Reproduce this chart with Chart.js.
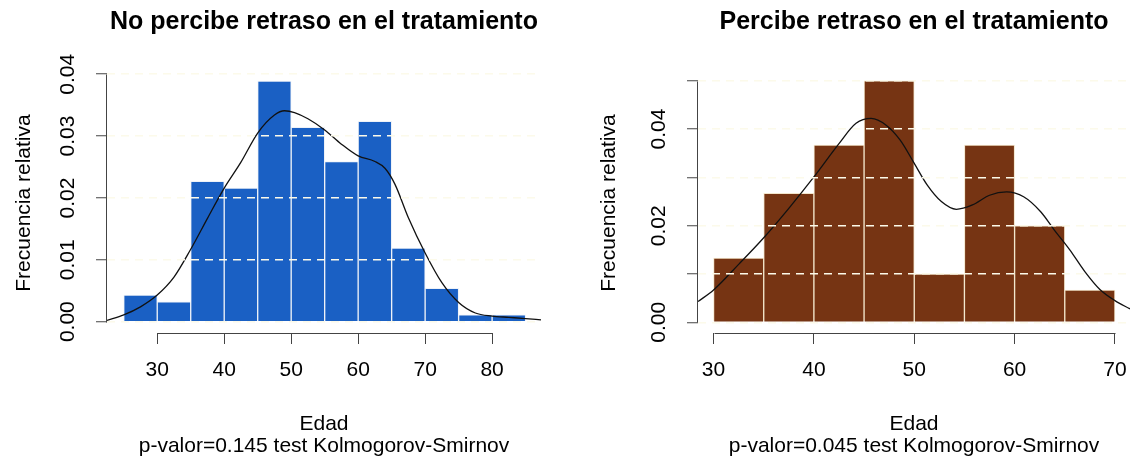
<!DOCTYPE html>
<html>
<head>
<meta charset="utf-8">
<script src="https://cdn.jsdelivr.net/npm/chart.js@4/dist/chart.umd.min.js"></script>
<style>
    body { margin: 0; background: #fff; }
    .panel { position: absolute; top: 0; width: 565px; height: 459px; }
</style>
</head>
<body>
<div class="panel" style="left:0"><canvas id="chartNo" width="565" height="459"></canvas></div>
<div class="panel" style="left:565px"><canvas id="chartSi" width="565" height="459"></canvas></div>
<script>
// bin width for both histograms (years)
const BIN_W = 5;

// left: "No percibe retraso"
const binStartsNo = [25, 30, 35, 40, 45, 50, 55, 60, 65, 70, 75, 80];
const freqNo = [0.0043, 0.0032, 0.0227, 0.0216, 0.0389, 0.0314, 0.0259, 0.0324, 0.0119, 0.0054, 0.0011, 0.0011];
const densXNo = [22.5, 25, 27.5, 30, 32.5, 35, 37.5, 40, 42.5, 45, 47.5, 49, 50.5, 52.5, 55, 57.5, 60, 62.5, 64, 65.5, 67.5, 70, 72.5, 75, 77.5, 80, 82.5, 85, 87.3];
const densYNo = [0.0002, 0.0011, 0.0024, 0.0043, 0.0072, 0.0117, 0.0167, 0.0216, 0.0258, 0.0305, 0.0334, 0.0341, 0.0338, 0.0328, 0.0310, 0.0287, 0.0268, 0.0259, 0.0248, 0.0222, 0.0168, 0.0111, 0.0063, 0.0031, 0.0014, 0.0009, 0.0007, 0.0005, 0.0003];
const xTicksNo = [30, 40, 50, 60, 70, 80];
const yTicksNo = [0, 0.01, 0.02, 0.03, 0.04];

// right: "Percibe retraso"
const binStartsSi = [30, 35, 40, 45, 50, 55, 60, 65];
const freqSi = [0.0133, 0.0267, 0.0367, 0.0500, 0.0100, 0.0367, 0.0200, 0.0067];
const densXSi = [28.45, 30, 32.5, 35, 37.5, 40, 42.5, 44.2, 45.7, 47.2, 48.6, 50, 51.3, 52.7, 54.2, 55.8, 57.5, 59.2, 60.9, 62.6, 64, 65.5, 67, 68.5, 70, 71.5];
const densYSi = [0.0043, 0.0067, 0.0120, 0.0175, 0.0236, 0.0301, 0.0370, 0.0412, 0.0422, 0.0408, 0.0377, 0.0329, 0.0284, 0.0250, 0.0234, 0.0243, 0.0263, 0.0270, 0.0260, 0.0229, 0.0190, 0.0150, 0.0105, 0.0068, 0.0045, 0.0028];
const xTicksSi = [30, 40, 50, 60, 70];
const yTicksSi = [0, 0.01, 0.02, 0.03, 0.04, 0.05];

const AXIS_COLOR = '#444';
const GRID_COLOR = '#fcfaea';
const FONT = "'Liberation Sans', Arial, Helvetica, sans-serif";

Chart.defaults.font.family = FONT;
Chart.defaults.font.size = 21;
Chart.defaults.color = '#000';

// R style axes: the line only spans from first to last tick
const axisLines = {
    id: 'axisLines',
    afterDraw(chart) {
        const { ctx, chartArea, scales: { x, y } } = chart;
        const xt = x.ticks, yt = y.ticks;
        ctx.save();
        ctx.strokeStyle = AXIS_COLOR;
        ctx.lineWidth = 1;
        ctx.beginPath();
        const by = Math.round(chartArea.bottom) + 0.5;
        ctx.moveTo(Math.round(x.getPixelForValue(xt[0].value)) + 0.5, by);
        ctx.lineTo(Math.round(x.getPixelForValue(xt[xt.length - 1].value)) + 0.5, by);
        const lx = Math.round(chartArea.left) - 0.5;
        ctx.moveTo(lx, Math.round(y.getPixelForValue(yt[0].value)) + 0.5);
        ctx.lineTo(lx, Math.round(y.getPixelForValue(yt[yt.length - 1].value)) + 0.5);
        ctx.stroke();
        ctx.restore();
    }
};

function makeHist(canvasId, opts) {
    const ctx = document.getElementById(canvasId).getContext('2d');
    return new Chart(ctx, {
        type: 'bar',
        data: {
            datasets: [
                {
                    type: 'line',
                    data: opts.densX.map((v, i) => ({ x: v, y: opts.densY[i] })),
                    borderColor: '#111',
                    borderWidth: 1.3,
                    pointRadius: 0,
                    cubicInterpolationMode: 'monotone',
                    fill: false,
                    order: 0
                },
                {
                    type: 'bar',
                    data: opts.bins.map((b, i) => ({ x: b + BIN_W / 2, y: opts.freq[i] })),
                    backgroundColor: opts.barColor,
                    borderColor: opts.barBorder,
                    borderWidth: { left: 1, right: 1, top: 1, bottom: 0 },
                    borderSkipped: false,
                    barPercentage: 1,
                    categoryPercentage: 1,
                    order: 1
                }
            ]
        },
        options: {
            responsive: false,
            animation: false,
            events: [],
            layout: { padding: { left: 0, right: opts.padRight, top: 0, bottom: 0 } },
            plugins: {
                legend: { display: false },
                tooltip: { enabled: false },
                title: {
                    display: true,
                    text: opts.title,
                    fullSize: false,
                    color: '#000',
                    font: { size: 25, weight: 'bold' },
                    padding: { top: 7, bottom: 36 }
                }
            },
            scales: {
                x: {
                    type: 'linear',
                    min: opts.xMin,
                    max: opts.xMax,
                    offset: false,
                    afterBuildTicks: s => { s.ticks = opts.xTicks.map(v => ({ value: v })); },
                    afterFit: s => { s.height = 126; s.paddingLeft = 0; s.paddingRight = 0; },
                    ticks: { autoSkip: false, maxRotation: 0, padding: 14, callback: v => String(v) },
                    grid: { offset: false, drawOnChartArea: false, drawTicks: true, tickLength: 11, tickColor: AXIS_COLOR, tickWidth: 1 },
                    border: { display: false },
                    title: {
                        display: true,
                        text: ['Edad', opts.pText],
                        font: { size: 21, lineHeight: 1.03 },
                        padding: { top: 0, bottom: 2 }
                    }
                },
                y: {
                    type: 'linear',
                    min: opts.yMin,
                    max: opts.yMax,
                    afterBuildTicks: s => { s.ticks = opts.yTicks.map(v => ({ value: v })); },
                    afterFit: s => { s.width = opts.yWidth; s.paddingTop = 0; s.paddingBottom = 0; },
                    ticks: {
                        autoSkip: false,
                        minRotation: 90,
                        maxRotation: 90,
                        crossAlign: 'center',
                        padding: 7,
                        callback: opts.yLabel
                    },
                    grid: {
                        z: 1,
                        color: GRID_COLOR,
                        lineWidth: 1.5,
                        drawTicks: true,
                        tickLength: 11,
                        tickColor: AXIS_COLOR,
                        tickWidth: 1,
                        tickBorderDash: []
                    },
                    border: { display: false, dash: [8, 6] },
                    title: {
                        display: true,
                        text: 'Frecuencia relativa',
                        font: { size: 21 },
                        padding: { top: opts.yTitlePad, bottom: 0 }
                    }
                }
            }
        },
        plugins: [axisLines]
    });
}

makeHist('chartNo', {
    title: 'No percibe retraso en el tratamiento',
    pText: 'p-valor=0.145 test Kolmogorov-Smirnov',
    bins: binStartsNo, freq: freqNo, densX: densXNo, densY: densYNo,
    xTicks: xTicksNo, yTicks: yTicksNo,
    xMin: 22.5, xMax: 87.3, yMin: -0.00183, yMax: 0.0402,
    yWidth: 107, yTitlePad: 12, padRight: 24,
    yLabel: v => v.toFixed(2),
    barColor: '#1a60c4', barBorder: '#eef2f8'
});

makeHist('chartSi', {
    title: 'Percibe retraso en el tratamiento',
    pText: 'p-valor=0.045 test Kolmogorov-Smirnov',
    bins: binStartsSi, freq: freqSi, densX: densXSi, densY: densYSi,
    xTicks: xTicksSi, yTicks: yTicksSi,
    xMin: 28.45, xMax: 71.5, yMin: -0.0022, yMax: 0.0516,
    yWidth: 133, yTitlePad: 32, padRight: 0,
    yLabel: (v, i) => (i % 2 === 0 ? v.toFixed(2) : ''),
    barColor: '#763413', barBorder: '#f3e6cc'
});
</script>
</body>
</html>
